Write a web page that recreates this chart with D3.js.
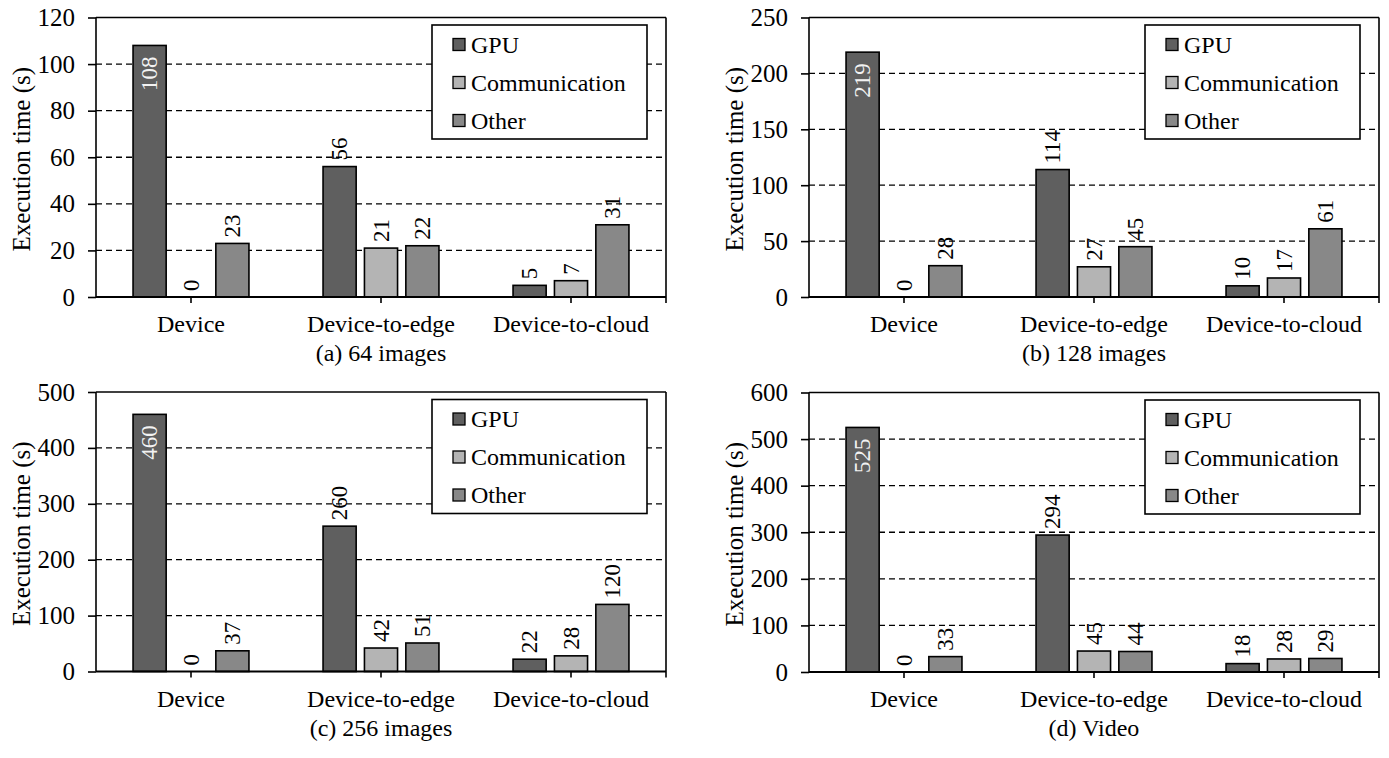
<!DOCTYPE html>
<html><head><meta charset="utf-8">
<script src="https://cdn.jsdelivr.net/npm/d3@7"></script>
<style>body{margin:0;background:#fff}svg{display:block}text{font-family:"Liberation Serif","Times New Roman","DejaVu Serif",serif;fill:#000}</style>
</head><body><svg id="c" width="1389" height="758"></svg>
<script>
const categories = ["Device", "Device-to-edge", "Device-to-cloud"];
const seriesNames = ["GPU", "Communication", "Other"];
const seriesColors = ["#5f5f5f", "#b4b4b4", "#888888"];
const captions = ["(a) 64 images", "(b) 128 images", "(c) 256 images", "(d) Video"];
const yMaxes = [120, 250, 500, 600];
const yTickSteps = [20, 50, 100, 100];
const gpuA = [108, 56, 5],  commA = [0, 21, 7],  otherA = [23, 22, 31];
const gpuB = [219, 114, 10], commB = [0, 27, 17], otherB = [28, 45, 61];
const gpuC = [460, 260, 22], commC = [0, 42, 28], otherC = [37, 51, 120];
const gpuD = [525, 294, 18], commD = [0, 45, 28], otherD = [33, 44, 29];
const panelData = [[gpuA, commA, otherA], [gpuB, commB, otherB], [gpuC, commC, otherC], [gpuD, commD, otherD]];
const yTitle = "Execution time (s)";

const FONT = "'Liberation Serif','Times New Roman','DejaVu Serif',serif";
const svg = d3.select("#c");
svg.append("rect").attr("width", 1389).attr("height", 758).attr("fill", "#fff");

const layout = [
  {x: 96, y: 17.5}, {x: 809, y: 17.5}, {x: 96, y: 392}, {x: 809, y: 392.5}
];
const W = 570, H = 279.5;

panelData.forEach((data, pi) => {
  const g = svg.append("g").attr("transform", `translate(${layout[pi].x},${layout[pi].y})`);
  const yMax = yMaxes[pi], step = yTickSteps[pi];
  const y = d3.scaleLinear().domain([0, yMax]).range([H, 0]);
  const x0 = d3.scaleBand().domain(categories).range([0, W]);
  const bw = x0.bandwidth();
  const x1 = d3.scaleBand().domain(seriesNames).range([bw / 2 - 0.305 * bw, bw / 2 + 0.305 * bw]).paddingInner(0.2);
  const ticks = d3.range(0, yMax + step / 2, step);

  // grid
  g.selectAll(".grid").data(ticks.filter(t => t > 0 && t < yMax)).enter().append("line")
    .attr("x1", 0).attr("x2", W).attr("y1", d => y(d)).attr("y2", d => y(d))
    .attr("stroke", "#000").attr("stroke-width", 1.3).attr("stroke-dasharray", "6,4");

  // bars
  const rows = [];
  categories.forEach((c, ci) => seriesNames.forEach((s, si) => rows.push({c, s, si, v: data[si][ci]})));
  g.selectAll(".bar").data(rows.filter(r => r.v > 0)).enter().append("rect")
    .attr("x", d => x0(d.c) + x1(d.s)).attr("width", x1.bandwidth())
    .attr("y", d => y(d.v)).attr("height", d => H - y(d.v))
    .attr("fill", d => seriesColors[d.si]).attr("stroke", "#000").attr("stroke-width", 1.6);

  // labels
  const fs = 23;
  rows.forEach(d => {
    const cx = x0(d.c) + x1(d.s) + x1.bandwidth() / 2;
    const top = y(d.v);
    const labelLen = String(d.v).length * fs * 0.5 + 6;
    const inside = top - labelLen < 0;
    const t = g.append("text").text(d.v).attr("font-size", fs)
      .attr("dominant-baseline", "central").style("font-family", FONT);
    if (inside) {
      t.attr("transform", `translate(${cx},${top + 11}) rotate(-90)`).attr("text-anchor", "end").style("fill", "#f2f2f2");
    } else {
      t.attr("transform", `translate(${cx},${top - 6}) rotate(-90)`).attr("text-anchor", "start");
    }
  });

  // frame top & right
  g.append("line").attr("x1", 0).attr("x2", W).attr("y1", 0).attr("y2", 0).attr("stroke", "#000").attr("stroke-width", 1.6);
  g.append("line").attr("x1", W).attr("x2", W).attr("y1", 0).attr("y2", H + 6).attr("stroke", "#000").attr("stroke-width", 1.6);

  // y axis
  const ya = g.append("g").call(d3.axisLeft(y).tickValues(ticks).tickSize(8).tickPadding(13).tickFormat(d3.format("d")));
  ya.select(".domain").attr("stroke-width", 1.6).attr("d", `M0,0V${H}`);
  ya.selectAll(".tick line").attr("stroke-width", 1.6);
  ya.selectAll("text").attr("font-size", 25).style("font-family", FONT).style("fill", "#000");

  // x axis
  const xa = g.append("g").attr("transform", `translate(0,${H})`).call(d3.axisBottom(x0).tickSize(6).tickPadding(12));
  xa.select(".domain").attr("stroke-width", 2).attr("d", `M0,0H${W}`);
  xa.selectAll(".tick line").attr("stroke-width", 1.6);
  xa.selectAll("text").attr("font-size", 24).style("font-family", FONT).style("fill", "#000");

  // y title
  g.append("text").text(yTitle).attr("font-size", 25).attr("text-anchor", "middle").style("font-family", FONT)
    .attr("transform", `translate(-66,${H / 2 + 2}) rotate(-90)`);

  // caption
  g.append("text").text(captions[pi]).attr("font-size", 24).attr("text-anchor", "middle").style("font-family", FONT)
    .attr("x", W / 2).attr("y", H + 64);

  // legend
  const lg = g.append("g").attr("transform", `translate(${336},${7.5})`);
  lg.append("rect").attr("width", 215).attr("height", 114).attr("fill", "#fff").attr("stroke", "#000").attr("stroke-width", 1.6);
  seriesNames.forEach((s, si) => {
    const ry = 19.5 + si * 38;
    lg.append("rect").attr("x", 21).attr("y", ry - 6).attr("width", 12).attr("height", 12)
      .attr("fill", seriesColors[si]).attr("stroke", "#000").attr("stroke-width", 1.3);
    lg.append("text").text(s).attr("x", 39).attr("y", ry).attr("dominant-baseline", "central")
      .attr("font-size", 24).style("font-family", FONT);
  });
});
</script></body></html>
